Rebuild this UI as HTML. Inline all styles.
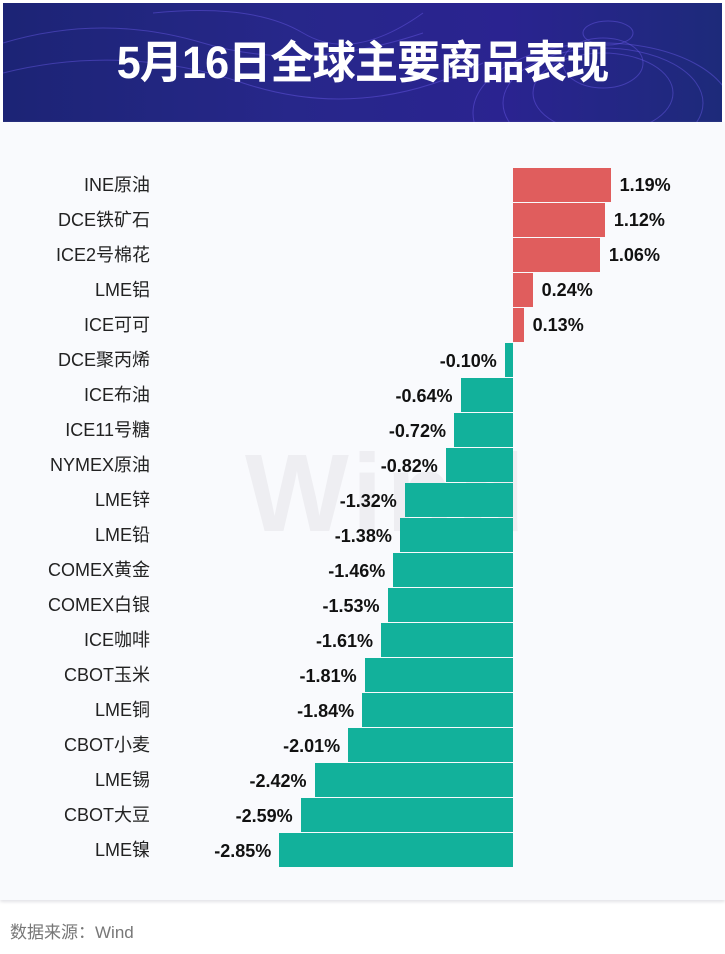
<!DOCTYPE html>
<html><head><meta charset="utf-8"><style>
body{margin:0;width:725px;height:954px;background:#fff;position:relative;overflow:hidden;font-family:"Liberation Sans","Noto Sans CJK SC",sans-serif}
#hdr{position:absolute;left:3px;top:3px;width:719px;height:119px;background:linear-gradient(90deg,#1c2475,#27278a 40%,#2a2390 70%,#1d2a7a);overflow:hidden}
#hdr h1{margin:0;position:absolute;left:0;width:100%;top:30px;text-align:center;color:#fff;font-size:45px;font-weight:bold;line-height:60px;letter-spacing:-1px;transform:scaleX(0.96)}
#panel{position:absolute;left:0;top:122px;width:725px;height:778px;background:#f9fafd;box-shadow:0 2px 3px #e4e4e8}
.l{position:absolute;right:575px;font-size:18px;color:#222;height:35px;line-height:37px;white-space:nowrap}
.b{position:absolute;height:34px}
.v{position:absolute;font-size:18px;font-weight:bold;color:#111;height:35px;line-height:35px}
#src{position:absolute;left:10px;top:918px;font-size:17px;color:#777}
</style></head><body>
<div id="hdr">
<svg width="719" height="119" style="position:absolute;left:0;top:0" fill="none" stroke="#6a5ae8" stroke-opacity="0.45">
<ellipse cx="600" cy="110" rx="130" ry="70"/><ellipse cx="600" cy="100" rx="100" ry="55"/><ellipse cx="600" cy="90" rx="70" ry="40"/><ellipse cx="600" cy="60" rx="40" ry="25"/><ellipse cx="605" cy="30" rx="25" ry="12"/>
<path d="M0 40 Q100 10 200 40 T420 30"/><path d="M0 70 Q120 40 240 80 T480 60"/><path d="M150 10 Q250 0 300 30 T420 10"/>
</svg>
<h1>5月16日全球主要商品表现</h1>
</div>
<div id="panel"></div>
<div style="position:absolute;left:245px;top:430px;font-size:110px;font-weight:bold;color:#eeeef2;letter-spacing:4px">Wind</div>
<div id="chart"></div>
<div id="src">数据来源：Wind</div>
<script>
var d=[["INE原油",1.19],["DCE铁矿石",1.12],["ICE2号棉花",1.06],["LME铝",0.24],["ICE可可",0.13],["DCE聚丙烯",-0.10],["ICE布油",-0.64],["ICE11号糖",-0.72],["NYMEX原油",-0.82],["LME锌",-1.32],["LME铅",-1.38],["COMEX黄金",-1.46],["COMEX白银",-1.53],["ICE咖啡",-1.61],["CBOT玉米",-1.81],["LME铜",-1.84],["CBOT小麦",-2.01],["LME锡",-2.42],["CBOT大豆",-2.59],["LME镍",-2.85]];
var h="",z=513,s=82;
d.forEach(function(r,i){var y=167+i*35,w=Math.abs(r[1])*s,v=r[1].toFixed(2)+"%";
h+='<div class="l" style="top:'+y+'px">'+r[0]+'</div>';
if(r[1]>=0){h+='<div class="b" style="left:'+z+'px;width:'+w+'px;top:'+(y+1)+'px;background:#e05d5d"></div><div class="v" style="left:'+(z+w+9)+'px;top:'+(y+1)+'px">'+v+'</div>';}
else{h+='<div class="b" style="left:'+(z-w)+'px;width:'+w+'px;top:'+(y+1)+'px;background:#12b19b"></div><div class="v" style="right:'+(725-(z-w)+8)+'px;top:'+(y+2)+'px">'+v+'</div>';}
});
document.getElementById("chart").innerHTML=h;
</script>
</body></html>
